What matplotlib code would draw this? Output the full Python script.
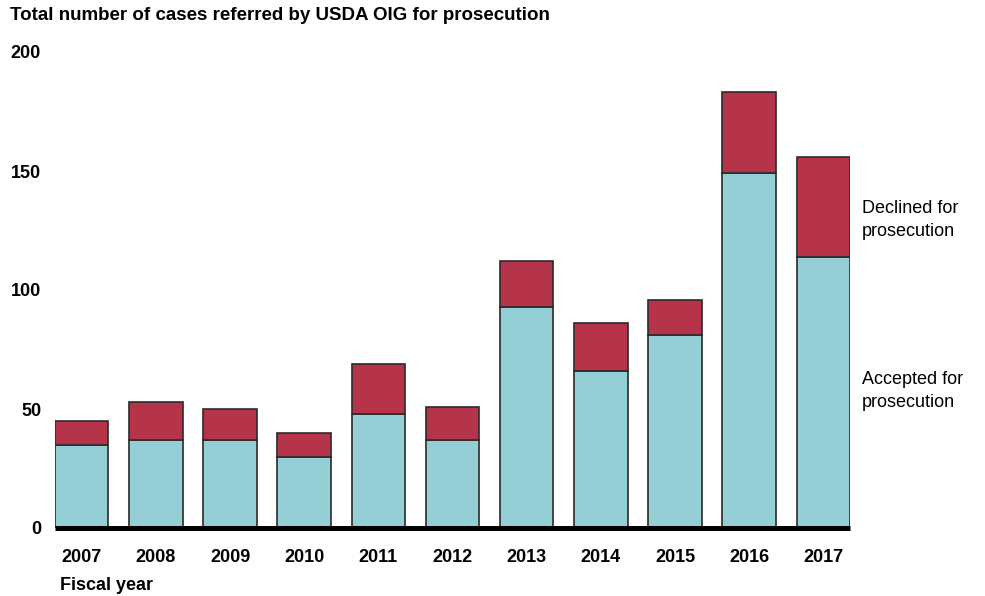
import matplotlib
matplotlib.use("Agg")
import matplotlib.pyplot as plt
import numpy as np

plt.rcParams['font.family'] = ['Liberation Sans', 'DejaVu Sans']

years = ["2007", "2008", "2009", "2010", "2011", "2012", "2013", "2014", "2015", "2016", "2017"]
accepted = [35, 37, 37, 30, 48, 37, 93, 66, 81, 149, 114]
total = [45, 53, 50, 40, 69, 51, 112, 86, 96, 183, 156]
declined = [t - a for t, a in zip(total, accepted)]
yticks = [0, 50, 100, 150, 200]

teal = "#94CFD6"
red = "#B53449"
edge = "#2b2b2b"

fig = plt.figure(figsize=(9.85, 5.96), dpi=100)
ax = fig.add_axes([55/985, (596-528)/596, (850-55)/985, 476/596])

x = np.arange(len(years))
w = 0.72
ax.bar(x, accepted, width=w, color=teal, edgecolor=edge, linewidth=1.2, zorder=2)
ax.bar(x, declined, bottom=accepted, width=w, color=red, edgecolor=edge, linewidth=1.2, zorder=2)
ax.axhline(0, color="black", linewidth=3.6, zorder=3, clip_on=False, solid_capstyle="butt")

ax.set_xlim(-w/2, len(years) - 1 + w/2)
ax.set_ylim(0, 200)
ax.set_xticks(x)
ax.set_xticklabels(years, fontsize=13, fontweight="bold")
ax.set_yticks(yticks)
ax.set_yticklabels([str(v) for v in yticks], fontsize=13, fontweight="bold")
ax.tick_params(axis="both", length=0)
ax.tick_params(axis="y", pad=10)
ax.tick_params(axis="x", pad=15)
for s in ax.spines.values():
    s.set_visible(False)

fig.text(10/985, 1 - 15/596, "Total number of cases referred by USDA OIG for prosecution",
         fontsize=13.5, fontweight="bold", ha="left", va="center")
fig.text(60/985, 1 - 586/596, "Fiscal year", fontsize=13, fontweight="bold",
         ha="left", va="center")

ax.annotate("Declined for\nprosecution", xy=(1.0, 0), xycoords="axes fraction",
            xytext=(862/985, 1 - 220/596), textcoords="figure fraction",
            fontsize=13, ha="left", va="center", linespacing=1.45)
ax.annotate("Accepted for\nprosecution", xy=(1.0, 0), xycoords="axes fraction",
            xytext=(862/985, 1 - 391/596), textcoords="figure fraction",
            fontsize=13, ha="left", va="center", linespacing=1.45)

fig.savefig("out.png", dpi=100)
